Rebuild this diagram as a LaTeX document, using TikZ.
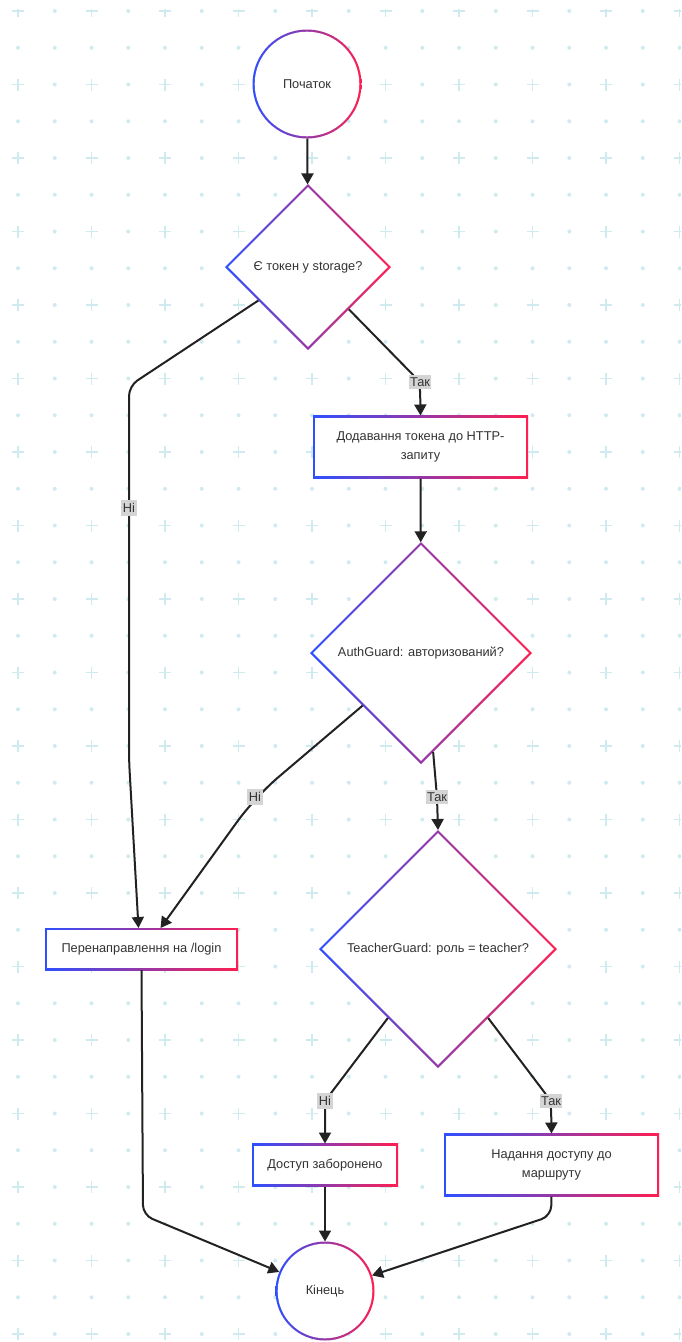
\documentclass[tikz,border=0pt]{standalone}
\usepackage{fontspec}
\setmainfont{Liberation Sans}
\usetikzlibrary{shapes.geometric,arrows.meta,calc}

\definecolor{gblue}{RGB}{45,80,255}
\definecolor{gred}{RGB}{255,30,80}
\definecolor{gridc}{RGB}{207,235,240}
\definecolor{txt}{RGB}{51,51,51}
\definecolor{lblbg}{RGB}{212,212,212}
\definecolor{edgec}{RGB}{34,34,34}

\tikzset{
  gshade/.style={left color=gblue, right color=gred, inner sep=0pt, outer sep=0pt,
    text=txt, font=\fontsize{12.8}{19}\selectfont, align=center},
  gbox/.style={gshade, rectangle,
    path picture={\fill[white] ([shift={(2.2pt,2.2pt)}]path picture bounding box.south west)
      rectangle ([shift={(-2.2pt,-2.2pt)}]path picture bounding box.north east);}},
  gcirc/.style={gshade, circle,
    path picture={\fill[white] let \p0=(path picture bounding box.center),
      \p1=(path picture bounding box.north east) in (\p0) circle[radius=\x1-\x0-2.2pt];}},
  gdiam/.style={gshade, diamond, aspect=1,
    path picture={\fill[white] let \p0=(path picture bounding box.center),
      \p1=(path picture bounding box.north east) in
      (\x1-3.1pt,\y0) -- (\x0,\y1-3.1pt) -- (2*\x0-\x1+3.1pt,\y0) -- (\x0,2*\y0-\y1+3.1pt) -- cycle;}},
  conn/.style={draw=edgec, line width=2pt, rounded corners=10pt,
    -{Triangle[length=11pt,width=12pt]}},
  lbl/.style={fill=lblbg, inner xsep=1.5pt, inner ysep=3pt, text=txt,
    font=\fontsize{12.8}{15}\selectfont},
}

\begin{document}
\begin{tikzpicture}[x=1pt,y=-1pt]
\fill[white] (0,0) rectangle (681,1342);
\useasboundingbox (0,0) rectangle (681,1342);

% dotted background grid with crosses
\begin{scope}
\clip (0,9) rectangle (681,1342);
\foreach \i in {0,...,36}{
  \foreach \j in {0,...,18}{
    \pgfmathsetmacro\gx{18+36.75*\j}
    \pgfmathsetmacro\gy{11+36.75*\i}
    \pgfmathtruncatemacro\odd{mod(\i,2)+mod(\j,2)}
    \ifnum\odd=0
      \draw[gridc,line width=1.9pt] (\gx-6,\gy) -- (\gx+6,\gy) (\gx,\gy-6) -- (\gx,\gy+6);
    \else
      \fill[gridc] (\gx,\gy) circle[radius=2pt];
    \fi
  }
}
\end{scope}

% nodes
\node[gcirc, minimum size=109pt] (start) at (307,84) {Початок};
\node[gdiam, minimum size=166pt] (d1) at (308,267) {Є токен у storage?};
\node[gbox, minimum width=215pt, minimum height=63pt] (addtok) at (420.5,447) {Додавання токена до HTTP-\\запиту};
\node[gdiam, minimum size=222pt] (d2) at (421,653) {AuthGuard: авторизований?};
\node[gdiam, minimum size=238pt] (d3) at (438,949) {TeacherGuard: роль = teacher?};
\node[gbox, minimum width=193pt, minimum height=42pt] (login) at (141.5,949) {Перенаправлення на /login};
\node[gbox, minimum width=146pt, minimum height=43pt] (deny) at (325,1165) {Доступ заборонено};
\node[gbox, minimum width=215pt, minimum height=63pt] (grant) at (551.5,1165) {Надання доступу до\\маршруту};
\node[gcirc, minimum size=99pt] (end) at (325,1291) {Кінець};

% label anchors
\coordinate (k1) at (420,382);
\coordinate (k2) at (129,508);
\coordinate (k3) at (255,797);
\coordinate (k4) at (437,797);
\coordinate (k5) at (325,1101);
\coordinate (k6) at (551,1101);

% connectors
\draw[conn] (start) -- (d1);
\draw[conn] (d1.314) -- (k1) -- (addtok.north);
\draw[conn] (d1.214) -- (129,386) -- (k2) -- (129,760) -- ([xshift=-3pt]login.north);
\draw[conn] (addtok) -- (d2);
\draw[conn, rounded corners=30pt] (d2.222) -- (k3) -- ([xshift=19pt]login.north);
\draw[conn] (d2.277) -- (k4) -- (d3.north);
\draw[conn] (d3.234) -- (k5) -- (deny.north);
\draw[conn] (d3.306) -- (k6) -- (grant.north);
\draw[conn] (deny) -- (end);
\draw[conn] (grant.south) -- (551,1216) -- (end);
\draw[conn] (login.south) -- (143,1215) -- (end);

% edge labels
\node[lbl] (l1) at (k1) {Так};
\node[lbl] (l2) at (k2) {Ні};
\node[lbl] (l3) at (k3) {Ні};
\node[lbl] (l4) at (k4) {Так};
\node[lbl] (l5) at (k5) {Ні};
\node[lbl] (l6) at (k6) {Так};
\end{tikzpicture}
\end{document}
